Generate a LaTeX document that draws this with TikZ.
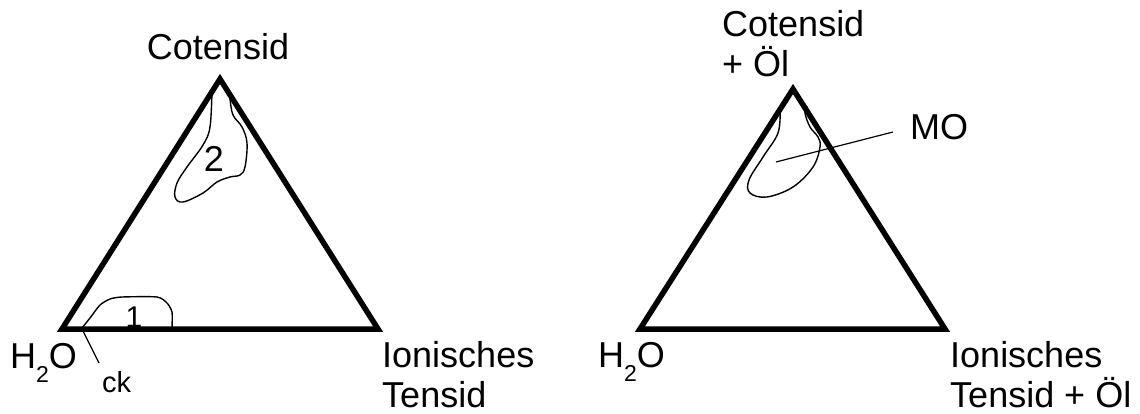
\documentclass[tikz,border=0pt]{standalone}
\usepackage{fontspec}
\setmainfont{Liberation Sans}
\begin{document}
\begin{tikzpicture}[x=1pt,y=-1pt,
  tri/.style={line width=5.5pt,line join=miter},
  thin/.style={line width=1.4pt},
  lbl/.style={anchor=base west,inner sep=0pt,font=\fontsize{36}{40}\selectfont},
  lblc/.style={anchor=base,inner sep=0pt,font=\fontsize{36}{40}\selectfont},
  small/.style={anchor=base west,inner sep=0pt,font=\fontsize{29}{30}\selectfont}]
\useasboundingbox (0,0) rectangle (1140,414);
% left triangle
\coordinate (LA) at (220,79);
\coordinate (LB) at (62,329);
\coordinate (LC) at (378,329);
\draw[tri] (LA) -- (LB) -- (LC) -- cycle;
% right triangle
\coordinate (RA) at (793,89);
\coordinate (RB) at (640,329);
\coordinate (RC) at (945,329);
\draw[tri] (RA) -- (RB) -- (RC) -- cycle;
% left labels
\node[lblc] (cot1) at (218,60) {Cotensid};
\node[lbl] (h2o1) at (10,368) {H\raisebox{-14pt}{\fontsize{23}{23}\selectfont 2}O};
\node[lbl] (ion1) at (382,367) {Ionisches};
\node[lbl] (ten1) at (382,407) {Tensid};
\node[small] (ck) at (102,392) {ck};
\node[anchor=base,inner sep=0pt,font=\fontsize{30}{30}\selectfont] (one) at (134,327) {1};
\node[anchor=base,inner sep=0pt,font=\fontsize{36}{36}\selectfont] (two) at (214,172) {2};
% region 2
\draw[thin] plot[smooth,tension=0.6] coordinates {(212,90) (210,127) (203,145) (187,167) (177,183) (175,197) (183,202) (203,193) (217,182) (230,177) (240,175) (245,167) (247,143) (242,127) (233,115) (230,99) (229,90)};
% region 1
\draw[thin] plot[smooth,tension=0.4] coordinates {(82,328) (90,318) (100,305) (110,299) (122,297) (157,297) (167,303) (172,312) (172,328)};
% ck line
\coordinate (ckA) at (82,329);
\coordinate (ckB) at (99,363);
\draw[line width=1.2pt] (ckA) -- (ckB);
% right labels
\node[lbl] (cot2) at (722,37) {Cotensid};
\node[lbl] (oel2) at (722,77) {+ Öl};
\node[lbl] (h2o2) at (598,367) {H\raisebox{-14pt}{\fontsize{23}{23}\selectfont 2}O};
\node[lbl] (ion2) at (950,367) {Ionisches};
\node[lbl] (ten2) at (950,407) {Tensid + Öl};
\node[lbl] (mo) at (910,140) {MO};
% MO region
\draw[thin] plot[smooth,tension=0.6] coordinates {(780,110) (778,133) (763,157) (749,180) (750,193) (767,197) (793,187) (813,167) (820,147) (818,137) (810,127) (805,113) (807,106)};
\coordinate (moA) at (776,162);
\coordinate (moB) at (893,132);
\draw[line width=1.2pt] (moA) -- (moB);
\end{tikzpicture}
\end{document}
